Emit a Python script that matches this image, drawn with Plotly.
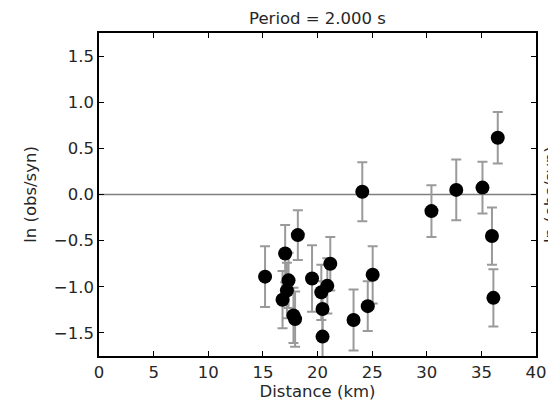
import plotly.graph_objects as go

distance_km = [15.2, 17.04, 18.2, 17.35, 17.2, 16.8, 17.8, 17.95, 19.5, 21.17, 20.9, 20.35,
               20.46, 20.46, 23.3, 24.6, 25.05, 24.1, 30.43, 32.7, 35.1, 36.5, 35.97, 36.1]
ln_ratio = [-0.89, -0.64, -0.44, -0.93, -1.04, -1.14, -1.31, -1.35, -0.91, -0.75, -0.99, -1.06,
            -1.24, -1.54, -1.36, -1.21, -0.87, 0.03, -0.18, 0.05, 0.075, 0.615, -0.45, -1.12]
ln_err = [0.33, 0.31, 0.27, 0.3, 0.3, 0.31, 0.3, 0.3, 0.36, 0.29, 0.3, 0.3,
          0.3, 0.3, 0.33, 0.27, 0.31, 0.32, 0.28, 0.33, 0.28, 0.28, 0.31, 0.31]

y_ticks = [-1.5, -1.0, -0.5, 0.0, 0.5, 1.0, 1.5]
y_tick_text = ["\u22121.5", "\u22121.0", "\u22120.5", "0.0", "0.5", "1.0", "1.5"]
x_ticks = [0, 5, 10, 15, 20, 25, 30, 35, 40]

FONT = "DejaVu Sans"
FS = 16.5
TXT = "#262626"

fig = go.Figure()
fig.add_trace(go.Scatter(
    x=distance_km, y=ln_ratio, mode="markers",
    marker=dict(color="black", size=14, line=dict(width=0)),
    error_y=dict(type="data", array=ln_err, visible=True, color="#9a9a9a",
                 thickness=2, width=5),
    showlegend=False,
))

fig.add_shape(type="line", xref="paper", yref="y", x0=0, x1=1, y0=0, y1=0,
              line=dict(color="#7f7f7f", width=1.5), layer="below")

axis_common = dict(showline=True, linecolor="black", linewidth=1.5, mirror="ticks",
                   ticks="inside", ticklen=5, tickwidth=1, tickcolor="black",
                   showgrid=False, zeroline=False,
                   tickfont=dict(family=FONT, size=FS, color=TXT))

fig.update_layout(
    width=548, height=394,
    margin=dict(l=91, r=20, t=25, b=46, autoexpand=False),
    paper_bgcolor="white", plot_bgcolor="white",
    title=dict(text="Period = 2.000 s", x=0.5, xref="paper", xanchor="center",
               y=1, yref="paper", yanchor="bottom", pad=dict(b=9),
               font=dict(family=FONT, size=FS, color=TXT)),
    xaxis=dict(range=[0, 40], tickvals=x_ticks,
               title=dict(text="Distance (km)", standoff=3,
                          font=dict(family=FONT, size=FS, color=TXT)),
               **axis_common),
    yaxis=dict(range=[-1.75, 1.75], tickvals=y_ticks, ticktext=y_tick_text,
               title=dict(text="ln (obs/syn)", standoff=13,
                          font=dict(family=FONT, size=FS, color=TXT)),
               **axis_common),
)

# partially visible label of a neighbouring panel at the right edge
fig.add_annotation(text="ln (obs/syn)", xref="paper", yref="paper", x=1.0, y=0.5,
                   xshift=3, xanchor="left", yanchor="middle", textangle=-90,
                   showarrow=False, font=dict(family=FONT, size=FS, color=TXT))

fig.write_html("out.html")
